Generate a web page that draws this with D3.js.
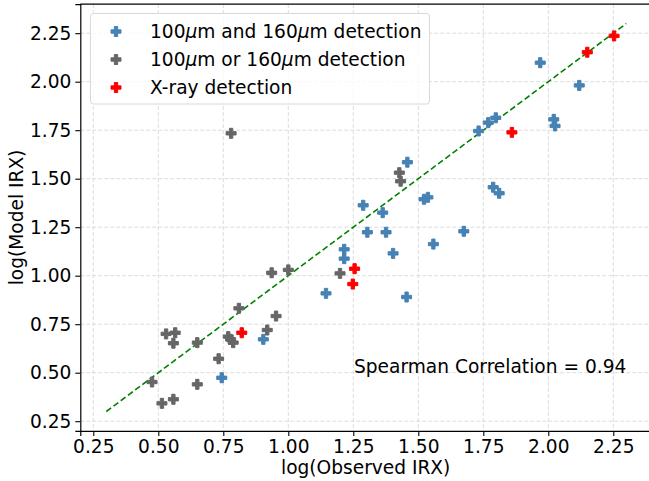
<!DOCTYPE html>
<html>
<head>
<meta charset="utf-8">
<script src="https://cdn.jsdelivr.net/npm/d3@7"></script>
<style>
  body { margin: 0; background: #fff; }
  svg { display: block; font-family: "DejaVu Sans", sans-serif; }
</style>
</head>
<body>
<div class="chart"></div>
<script>
// points: [log(Observed IRX), log(Model IRX)]
var bothDetected = [
  [0.744, 0.474], [0.904, 0.672], [1.145, 0.909], [1.215, 1.136], [1.215, 1.088],
  [1.288, 1.363], [1.304, 1.224], [1.363, 1.325], [1.376, 1.224], [1.403, 1.115],
  [1.455, 0.890], [1.458, 1.585], [1.522, 1.394], [1.537, 1.404], [1.558, 1.163],
  [1.675, 1.229], [1.732, 1.746], [1.769, 1.789], [1.788, 1.456], [1.798, 1.814],
  [1.811, 1.425], [1.969, 2.098], [2.021, 1.806], [2.026, 1.772], [2.119, 1.981]
];
var oneDetected = [
  [0.476, 0.452], [0.514, 0.342], [0.530, 0.700], [0.558, 0.652], [0.558, 0.363],
  [0.565, 0.706], [0.650, 0.655], [0.650, 0.440], [0.732, 0.572], [0.769, 0.686],
  [0.778, 0.672], [0.788, 0.655], [0.780, 1.734], [0.810, 0.832], [0.919, 0.720],
  [0.936, 1.015], [0.953, 0.792], [1.000, 1.030], [1.199, 1.012], [1.427, 1.531],
  [1.432, 1.487]
];
var xrayDetected = [
  [0.821, 0.706], [1.248, 0.957], [1.255, 1.036], [1.860, 1.739], [2.150, 2.152],
  [2.253, 2.236]
];
var oneToOne = [[0.3, 0.3], [2.3, 2.3]];
var tickValues = [0.25, 0.50, 0.75, 1.00, 1.25, 1.50, 1.75, 2.00, 2.25];
var seriesNames = ["100|µ|m and 160|µ|m detection", "100|µ|m or 160|µ|m detection", "X-ray detection"];
var seriesColors = ["#4682b4", "#666666", "#ff0000"];
var spearman = 0.94;

var W = 649, H = 481;
var plotL = 80.3, plotB = 430.9, plotT = 4.1, plotR = 652.3;
var fs = "18.6px";

var svg = d3.select(".chart").append("svg")
    .attr("width", W)
    .attr("height", H);

var x = d3.scaleLinear().domain([0.2, 2.4]).range([plotL, plotR]);
var y = d3.scaleLinear().domain([0.2, 2.4]).range([plotB, plotT]);

var plusPath = function(s) {
    var a = s / 6;
    var pts = [[-1,-3],[1,-3],[1,-1],[3,-1],[3,1],[1,1],[1,3],[-1,3],[-1,1],[-3,1],[-3,-1],[-1,-1]];
    return "M" + pts.map(function(p) { return (p[0] * a) + "," + (p[1] * a); }).join("L") + "Z";
};

// grid
var grid = svg.append("g").attr("class", "grid");
grid.selectAll("line.gx").data(tickValues).enter().append("line")
    .attr("x1", function(d) { return x(d); }).attr("x2", function(d) { return x(d); })
    .attr("y1", plotT).attr("y2", plotB);
grid.selectAll("line.gy").data(tickValues).enter().append("line")
    .attr("y1", function(d) { return y(d); }).attr("y2", function(d) { return y(d); })
    .attr("x1", plotL).attr("x2", plotR);
grid.selectAll("line")
    .attr("stroke", "#dcdcdc")
    .attr("stroke-width", 1)
    .attr("stroke-dasharray", "4,2");

// one-to-one line
svg.append("path")
    .datum(oneToOne)
    .attr("d", d3.line().x(function(d) { return x(d[0]); }).y(function(d) { return y(d[1]); }))
    .attr("fill", "none")
    .attr("stroke", "#008000")
    .attr("stroke-width", 1.6)
    .attr("stroke-dasharray", "6,3");

// markers
var allSeries = [bothDetected, oneDetected, xrayDetected];
allSeries.forEach(function(pts, i) {
    svg.append("g").selectAll("path").data(pts).enter().append("path")
        .attr("transform", function(d) { return "translate(" + x(d[0]) + "," + y(d[1]) + ")"; })
        .attr("d", plusPath(10))
        .attr("fill", seriesColors[i])
        .attr("stroke", seriesColors[i])
        .attr("stroke-width", 1);
});

// axes
var xAxis = svg.append("g")
    .attr("transform", "translate(0," + plotB + ")")
    .call(d3.axisBottom(x).tickValues(tickValues).tickFormat(d3.format(".2f")).tickSizeOuter(0).tickSize(5).tickPadding(4));
var yAxis = svg.append("g")
    .attr("transform", "translate(" + plotL + ",0)")
    .call(d3.axisLeft(y).tickValues(tickValues).tickFormat(d3.format(".2f")).tickSizeOuter(0).tickSize(5).tickPadding(4));
[xAxis, yAxis].forEach(function(ax) {
    ax.select(".domain").attr("stroke", "#000").attr("stroke-width", 1.2);
    ax.selectAll(".tick line").attr("stroke", "#000").attr("stroke-width", 1.1);
    ax.selectAll(".tick text").attr("font-size", fs).attr("fill", "#000")
        .attr("font-family", "DejaVu Sans");
});
// top spine
svg.append("line")
    .attr("x1", plotL).attr("x2", plotR).attr("y1", plotT).attr("y2", plotT)
    .attr("stroke", "#000").attr("stroke-width", 1.2);

// axis labels
svg.append("text")
    .attr("x", (plotL + W) / 2 + 1)
    .attr("y", 474)
    .attr("text-anchor", "middle")
    .attr("font-size", fs)
    .text("log(Observed IRX)");
svg.append("text")
    .attr("transform", "translate(23," + ((plotT + plotB) / 2) + ") rotate(-90)")
    .attr("text-anchor", "middle")
    .attr("font-size", fs)
    .text("log(Model IRX)");

// annotation
svg.append("text")
    .attr("x", 354)
    .attr("y", 373)
    .attr("font-size", fs)
    .text("Spearman Correlation = " + spearman.toFixed(2));

// legend
var legend = svg.append("g").attr("class", "legend");
legend.append("rect")
    .attr("x", 90.5).attr("y", 13.5)
    .attr("width", 339).attr("height", 90.5)
    .attr("rx", 3)
    .attr("fill", "#fff").attr("fill-opacity", 0.8)
    .attr("stroke", "#d8d8d8").attr("stroke-width", 1);
seriesNames.forEach(function(name, i) {
    var cy = 31.5 + i * 28;
    legend.append("path")
        .attr("transform", "translate(116," + cy + ")")
        .attr("d", plusPath(10))
        .attr("fill", seriesColors[i])
        .attr("stroke", seriesColors[i])
        .attr("stroke-width", 1);
    var t = legend.append("text")
        .attr("x", 150)
        .attr("y", cy + 6.5)
        .attr("font-size", fs);
    name.split("|").forEach(function(part, j) {
        var sp = t.append("tspan").text(part);
        if (j % 2 == 1) sp.attr("font-style", "italic");
    });
});
</script>
</body>
</html>
